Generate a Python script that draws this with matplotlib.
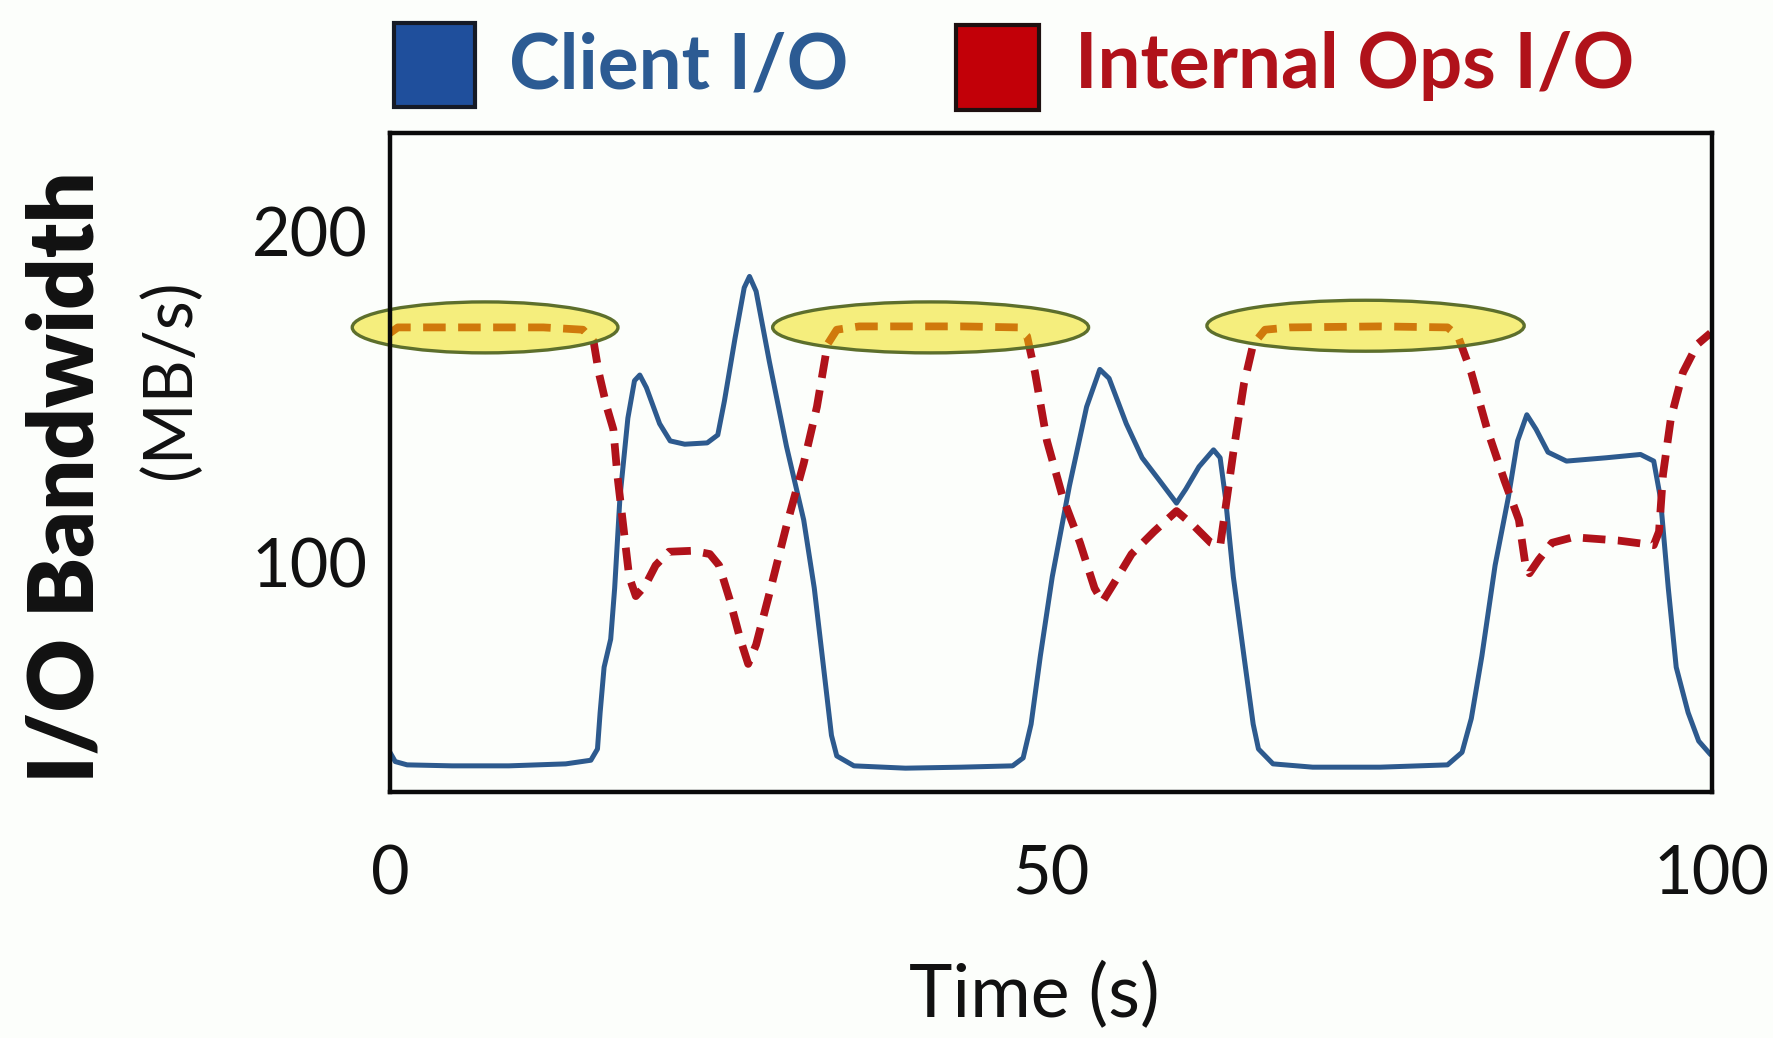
import matplotlib
matplotlib.use("Agg")
import matplotlib.pyplot as plt
from matplotlib.patches import Ellipse, Rectangle

# Client I/O bandwidth (MB/s) over time (s)
client_t = [0, 0.4, 1.3, 4.7, 9.0, 13.3, 15.2, 15.7, 15.9, 16.2, 16.7, 17.0, 17.4, 18.0,
            18.5, 18.9, 19.4, 20.4, 21.2, 22.3, 24.0, 24.8, 25.3, 26.1, 26.8, 27.2, 27.7,
            28.7, 30.0, 31.3, 32.1, 32.8, 33.4, 33.8, 35.1, 39.0, 43.2, 47.1, 47.9, 48.5,
            49.2, 50.1, 51.4, 52.7, 53.7, 54.4, 55.7, 56.9, 58.2, 59.5, 60.2, 61.2, 62.3,
            62.8, 63.2, 63.8, 64.6, 65.3, 65.7, 66.8, 69.8, 74.9, 80.0, 81.1, 81.8, 82.6,
            83.6, 84.6, 85.3, 86.0, 86.7, 87.6, 89.0, 92.0, 94.6, 95.6, 96.1, 96.7, 97.3,
            98.2, 99.0, 99.9]
client_bw = [42.5, 39.7, 38.7, 38.4, 38.4, 39.0, 40.1, 43.5, 54.5, 68.2, 76.7, 92.1, 119.5,
             143.5, 154.8, 156.5, 152.7, 141.8, 136.6, 135.6, 136.0, 138.4, 148.6, 167.5,
             182.9, 186.3, 181.8, 160.6, 134.9, 112.7, 92.1, 68.2, 47.6, 41.4, 38.4, 37.7,
             38.0, 38.4, 40.8, 51.0, 71.6, 95.5, 123.0, 146.9, 158.2, 155.5, 141.8, 131.5,
             124.7, 117.8, 122.0, 128.8, 133.9, 131.5, 119.5, 95.5, 71.6, 51.0, 43.5, 39.0,
             38.0, 38.0, 38.7, 42.5, 52.7, 71.6, 99.0, 119.5, 136.6, 144.5, 140.1, 133.2,
             130.5, 131.5, 132.5, 130.5, 119.5, 92.1, 68.2, 54.5, 45.9, 41.8]

# Internal operations I/O bandwidth (MB/s) over time (s)
internal_t = [0, 0.6, 4.7, 11.6, 14.6, 15.4, 15.8, 16.4, 16.9, 17.2, 17.7, 18.1, 18.6, 19.3,
              20.1, 21.1, 22.9, 24.2, 24.9, 25.7, 26.5, 27.1, 27.7, 28.7, 30.0, 31.3, 32.3,
              33.1, 33.8, 35.5, 43.2, 47.5, 48.2, 48.8, 49.7, 50.9, 52.2, 53.3, 53.9, 54.8,
              56.1, 57.8, 59.5, 60.8, 62.1, 62.8, 63.2, 63.8, 64.6, 65.3, 66.2, 68.1, 74.9,
              80.0, 80.8, 81.8, 83.0, 84.3, 85.4, 85.9, 86.2, 86.9, 87.9, 89.5, 92.9, 95.6,
              96.0, 96.3, 96.9, 97.8, 98.9, 99.9]
internal_bw = [169.2, 170.9, 170.9, 170.9, 170.2, 166.8, 157.2, 146.9, 140.1, 126.4, 109.2,
               95.5, 89.7, 92.8, 99.0, 103.1, 103.4, 102.4, 99.0, 88.7, 76.7, 69.2, 75.0,
               90.4, 111.0, 129.8, 146.9, 165.8, 170.2, 171.2, 171.2, 170.9, 168.2, 157.2,
               136.6, 119.5, 105.8, 92.1, 88.0, 93.8, 102.4, 109.2, 115.4, 111.0, 105.8,
               104.8, 116.1, 133.2, 153.8, 165.8, 170.2, 170.9, 171.2, 170.9, 168.2, 157.2,
               140.1, 124.7, 112.7, 99.0, 96.6, 100.7, 105.8, 107.5, 106.5, 105.1, 109.2,
               126.4, 143.5, 157.2, 165.8, 169.2]

# Highlighted plateaus: (center time, center bandwidth, width in s, height in MB/s)
highlight_cx = [7.2, 40.9, 73.8]
highlight_cy = [170.9, 170.9, 171.4]
highlight_w = [20.1, 23.9, 24.0]
highlight_h = 15.4

x_ticks = [0, 50, 100]
y_ticks = [100, 200]

BLUE = "#2c5b93"
RED = "#b0121a"
BG = "#fcfefb"

plt.rcParams["font.family"] = ["Lato", "DejaVu Sans"]

fig = plt.figure(figsize=(17.74, 10.38), dpi=100, facecolor=BG)
ax = fig.add_axes([0.2198, 0.2370, 0.9650 - 0.2198, 0.8714 - 0.2370])
ax.set_facecolor(BG)

ax.plot(client_t, client_bw, color="#2d5a8e", lw=3.6, solid_joinstyle="round",
        solid_capstyle="round", zorder=3)
ax.plot(internal_t, internal_bw, color=RED, lw=5.6, dashes=(2.9, 1.6),
        dash_capstyle="butt", dash_joinstyle="round", zorder=3)

for cx, cy, w in zip(highlight_cx, highlight_cy, highlight_w):
    ax.add_patch(Ellipse((cx, cy), w, highlight_h, facecolor="#f0e000", alpha=0.5,
                         edgecolor="none", zorder=4, clip_on=False))
    ax.add_patch(Ellipse((cx, cy), w, highlight_h, facecolor="none",
                         edgecolor="#5d6f2c", lw=2.4, zorder=5, clip_on=False))

ax.set_xlim(0, 100)
ax.set_ylim(30.5, 229.5)
ax.set_xticks(x_ticks)
ax.set_yticks(y_ticks)
ax.tick_params(axis="both", length=0, labelsize=48, colors="#111111")
ax.tick_params(axis="x", pad=38)
ax.tick_params(axis="y", pad=16)
for sp in ax.spines.values():
    sp.set_linewidth(3.2)
    sp.set_color("#0a0a0a")
    sp.set_zorder(6)

# axis titles
fig.text(0.038, 0.540, "I/O Bandwidth", rotation=90, ha="center", va="center",
         fontsize=65, fontweight="heavy", color="#111111")
fig.text(0.096, 0.635, "(MB/s)", rotation=90, ha="center", va="center",
         fontsize=48, color="#111111")
fig.text(0.583, 0.040, "Time (s)", ha="center", va="center", fontsize=53,
         color="#111111")

# legend above the plot
W, H = 1774, 1038
fig.add_artist(Rectangle((394 / W, 1 - 107 / H), 81 / W, 84 / H, transform=fig.transFigure,
                         facecolor="#1f4f9c", edgecolor="#151a26", lw=3))
fig.text(509 / W, 1 - 66 / H, "Client I/O", ha="left", va="center", fontsize=55,
         fontweight="bold", color=BLUE)
fig.add_artist(Rectangle((956 / W, 1 - 110 / H), 83 / W, 85 / H, transform=fig.transFigure,
                         facecolor="#c20008", edgecolor="#1e1010", lw=3))
fig.text(1075 / W, 1 - 66 / H, "Internal Ops I/O", ha="left", va="center", fontsize=55,
         fontweight="bold", color=RED)

fig.savefig("out.png", dpi=100, facecolor=BG)
